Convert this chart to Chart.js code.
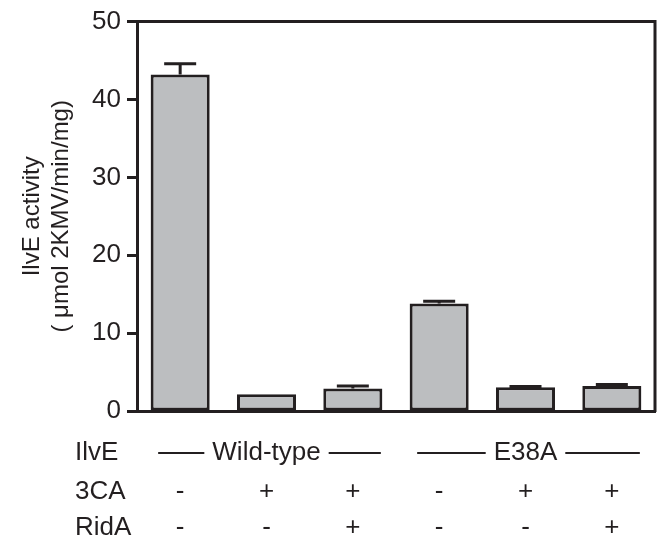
<!DOCTYPE html>
<html>
<head>
<meta charset="utf-8">
<script src="https://cdn.jsdelivr.net/npm/chart.js@4.4.0/dist/chart.umd.min.js"></script>
<style>
  body { margin: 0; background: #fff; }
  canvas { display: block; }
</style>
</head>
<body>
<canvas id="chart" width="665" height="537"></canvas>
<script>
// samples, left to right
var categories = ["WT", "WT +3CA", "WT +3CA +RidA", "E38A", "E38A +3CA", "E38A +3CA +RidA"];
var activity = [43.2, 2.15, 2.9, 13.8, 3.05, 3.2];
var errors = [1.4, 0, 0.3, 0.3, 0.08, 0.2];

// table under the x axis
var rowLabels = ["IlvE", "3CA", "RidA"];
var ilveGroups = [
    { label: "Wild-type", from: 0, to: 2 },
    { label: "E38A", from: 3, to: 5 }
];
var cca = ["-", "+", "+", "-", "+", "+"];
var ridA = ["-", "-", "+", "-", "-", "+"];

var yTitle = ["IlvE activity", "( \u03bcmol 2KMV/min/mg)"];
var yMin = 0, yMax = 50, yStep = 10;

var ink = "#231f20";
var fontFamily = "'Liberation Sans', Arial, Helvetica, sans-serif";

// error bars, drawn upward only
var errorBars = {
    id: "errorBars",
    afterDatasetsDraw: function (chart) {
        var ctx = chart.ctx;
        var y = chart.scales.y;
        var bars = chart.getDatasetMeta(0).data;
        ctx.save();
        ctx.strokeStyle = ink;
        ctx.lineWidth = 3;
        for (var i = 0; i < bars.length; i++) {
            if (!errors[i]) continue;
            var x = bars[i].x;
            var top = y.getPixelForValue(activity[i] + errors[i]);
            ctx.beginPath();
            ctx.moveTo(x, bars[i].y);
            ctx.lineTo(x, top);
            ctx.moveTo(x - 16, top);
            ctx.lineTo(x + 16, top);
            ctx.stroke();
        }
        ctx.restore();
    }
};

// top and right sides of the box
var frame = {
    id: "frame",
    afterDraw: function (chart) {
        var a = chart.chartArea;
        var ctx = chart.ctx;
        ctx.save();
        ctx.strokeStyle = ink;
        ctx.lineWidth = 3;
        ctx.beginPath();
        ctx.moveTo(a.left - 1, a.top);
        ctx.lineTo(a.right, a.top);
        ctx.lineTo(a.right, a.bottom + 1);
        ctx.stroke();
        ctx.restore();
    }
};

// the IlvE / 3CA / RidA rows
var table = {
    id: "table",
    afterDraw: function (chart) {
        var ctx = chart.ctx;
        var x = chart.scales.x;
        var base = chart.chartArea.bottom;
        var rows = [base + 42, base + 81, base + 117];
        ctx.save();
        ctx.fillStyle = ink;
        ctx.strokeStyle = ink;
        ctx.font = "26px " + fontFamily;
        ctx.textBaseline = "middle";

        ctx.textAlign = "left";
        for (var r = 0; r < rowLabels.length; r++) {
            ctx.fillText(rowLabels[r], 75, rows[r]);
        }

        ctx.textAlign = "center";
        ctx.lineWidth = 2;
        ilveGroups.forEach(function (g) {
            var mid = x.getPixelForValue((g.from + g.to) / 2);
            var w = ctx.measureText(g.label).width;
            ctx.fillText(g.label, mid, rows[0]);
            ctx.beginPath();
            ctx.moveTo(x.getPixelForValue(g.from) - 22, rows[0]);
            ctx.lineTo(mid - w / 2 - 8, rows[0]);
            ctx.moveTo(mid + w / 2 + 8, rows[0]);
            ctx.lineTo(x.getPixelForValue(g.to) + 28, rows[0]);
            ctx.stroke();
        });

        for (var i = 0; i < categories.length; i++) {
            var px = x.getPixelForValue(i);
            ctx.fillText(cca[i], px, rows[1]);
            ctx.fillText(ridA[i], px, rows[2]);
        }
        ctx.restore();
    }
};

new Chart(document.getElementById("chart"), {
    type: "bar",
    data: {
        labels: categories,
        datasets: [{
            data: activity,
            backgroundColor: "#bcbec0",
            borderColor: ink,
            borderWidth: 3,
            borderSkipped: false,
            categoryPercentage: 1,
            barPercentage: 0.684
        }]
    },
    options: {
        responsive: false,
        animation: false,
        layout: { padding: { top: 16, right: 10, left: 0, bottom: 0 } },
        plugins: {
            legend: { display: false },
            tooltip: { enabled: false }
        },
        scales: {
            x: {
                ticks: { display: false },
                grid: { display: false },
                border: { color: ink, width: 3 },
                afterFit: function (scale) { scale.height = 126; }
            },
            y: {
                min: yMin,
                max: yMax,
                ticks: {
                    stepSize: yStep,
                    color: ink,
                    padding: 6,
                    font: { family: fontFamily, size: 26 }
                },
                grid: {
                    drawOnChartArea: false,
                    drawTicks: true,
                    tickLength: 10,
                    tickWidth: 3,
                    tickColor: ink
                },
                border: { color: ink, width: 3 },
                title: {
                    display: true,
                    text: yTitle,
                    color: ink,
                    padding: { top: 18, bottom: 0 },
                    font: { family: fontFamily, size: 24, lineHeight: 1.2 }
                },
                afterFit: function (scale) { scale.width = 137; }
            }
        }
    },
    plugins: [errorBars, frame, table]
});
</script>
</body>
</html>
